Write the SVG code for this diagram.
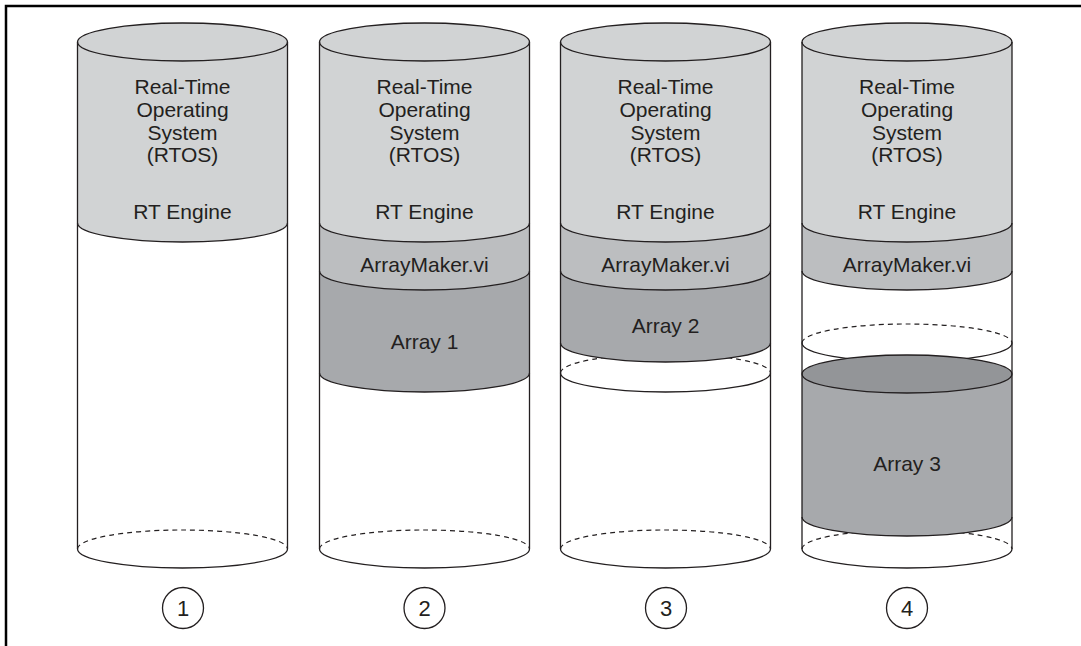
<svg xmlns="http://www.w3.org/2000/svg" width="1081" height="646" viewBox="0 0 1081 646">
<style>
.ln{fill:none;stroke:#231f20;stroke-width:1.3}
.ds{fill:none;stroke:#231f20;stroke-width:1.2;stroke-dasharray:5 4}
.rtos{fill:#d1d3d4}
.am{fill:#bcbec0}
.arr{fill:#a7a9ac}
.arrtop{fill:#939598;stroke:#231f20;stroke-width:1.3}
.t{font-family:"Liberation Sans",Arial,Helvetica,sans-serif;font-size:21px;fill:#231f20;text-anchor:middle}
.n{font-family:"Liberation Sans",Arial,Helvetica,sans-serif;font-size:22px;fill:#231f20;text-anchor:middle}
.num{fill:#fff;stroke:#231f20;stroke-width:1.3}
</style>
<rect width="1081" height="646" fill="#fff"/>
<path d="M6,646 V6 H1081" fill="none" stroke="#000" stroke-width="2.5"/>

<g id="cyl1" transform="translate(182.5,0)">
  <path class="ds" d="M-105,549 A105,19 0 0 1 105,549"/>
  <path class="rtos" d="M-105,42 A105,19 0 0 1 105,42 V223 A105,19 0 0 1 -105,223 Z"/>
  <ellipse class="ln" cx="0" cy="42" rx="105" ry="19"/>
  <path class="ln" d="M-105,223 A105,19 0 0 0 105,223"/>
  <path class="ln" d="M-105,549 A105,19 0 0 0 105,549"/>
  <path class="ln" d="M-105,42 V549 M105,42 V549"/>
  <text class="t" x="0" y="94">Real-Time</text>
  <text class="t" x="0" y="117">Operating</text>
  <text class="t" x="0" y="140">System</text>
  <text class="t" x="0" y="162">(RTOS)</text>
  <text class="t" x="0" y="218.5">RT Engine</text>
</g>

<g id="cyl2" transform="translate(424.5,0)">
  <path class="ds" d="M-105,549 A105,19 0 0 1 105,549"/>
  <path class="rtos" d="M-105,42 A105,19 0 0 1 105,42 V223 A105,19 0 0 1 -105,223 Z"/>
  <path class="am" d="M-105,223 A105,19 0 0 0 105,223 V271 A105,19 0 0 1 -105,271 Z"/>
  <path class="arr" d="M-105,271 A105,19 0 0 0 105,271 V373 A105,19 0 0 1 -105,373 Z"/>
  <ellipse class="ln" cx="0" cy="42" rx="105" ry="19"/>
  <path class="ln" d="M-105,223 A105,19 0 0 0 105,223 M-105,271 A105,19 0 0 0 105,271 M-105,373 A105,19 0 0 0 105,373"/>
  <path class="ln" d="M-105,549 A105,19 0 0 0 105,549"/>
  <path class="ln" d="M-105,42 V549 M105,42 V549"/>
  <text class="t" x="0" y="94">Real-Time</text>
  <text class="t" x="0" y="117">Operating</text>
  <text class="t" x="0" y="140">System</text>
  <text class="t" x="0" y="162">(RTOS)</text>
  <text class="t" x="0" y="218.5">RT Engine</text>
  <text class="t" x="0" y="271.5">ArrayMaker.vi</text>
  <text class="t" x="0" y="348.5">Array 1</text>
</g>

<g id="cyl3" transform="translate(665.5,0)">
  <path class="ds" d="M-105,549 A105,19 0 0 1 105,549"/>
  <path class="ds" d="M-105,373 A105,19 0 0 1 105,373"/>
  <path class="rtos" d="M-105,42 A105,19 0 0 1 105,42 V223 A105,19 0 0 1 -105,223 Z"/>
  <path class="am" d="M-105,223 A105,19 0 0 0 105,223 V271 A105,19 0 0 1 -105,271 Z"/>
  <path class="arr" d="M-105,271 A105,19 0 0 0 105,271 V343 A105,19 0 0 1 -105,343 Z"/>
  <ellipse class="ln" cx="0" cy="42" rx="105" ry="19"/>
  <path class="ln" d="M-105,223 A105,19 0 0 0 105,223 M-105,271 A105,19 0 0 0 105,271 M-105,343 A105,19 0 0 0 105,343 M-105,373 A105,19 0 0 0 105,373"/>
  <path class="ln" d="M-105,549 A105,19 0 0 0 105,549"/>
  <path class="ln" d="M-105,42 V549 M105,42 V549"/>
  <text class="t" x="0" y="94">Real-Time</text>
  <text class="t" x="0" y="117">Operating</text>
  <text class="t" x="0" y="140">System</text>
  <text class="t" x="0" y="162">(RTOS)</text>
  <text class="t" x="0" y="218.5">RT Engine</text>
  <text class="t" x="0" y="271.5">ArrayMaker.vi</text>
  <text class="t" x="0" y="332.5">Array 2</text>
</g>

<g id="cyl4" transform="translate(907,0)">
  <path class="ds" d="M-105,549 A105,19 0 0 1 105,549"/>
  <path class="ds" d="M-105,343 A105,19 0 0 1 105,343"/>
  <path class="rtos" d="M-105,42 A105,19 0 0 1 105,42 V223 A105,19 0 0 1 -105,223 Z"/>
  <path class="am" d="M-105,223 A105,19 0 0 0 105,223 V271 A105,19 0 0 1 -105,271 Z"/>
  <path class="ln" d="M-105,343 A105,19 0 0 0 105,343"/>
  <path class="arr" d="M-105,374 V517 A105,19 0 0 0 105,517 V374 Z"/>
  <ellipse class="arrtop" cx="0" cy="374" rx="105" ry="19"/>
  <ellipse class="ln" cx="0" cy="42" rx="105" ry="19"/>
  <path class="ln" d="M-105,223 A105,19 0 0 0 105,223 M-105,271 A105,19 0 0 0 105,271 M-105,517 A105,19 0 0 0 105,517"/>
  <path class="ln" d="M-105,549 A105,19 0 0 0 105,549"/>
  <path class="ln" d="M-105,42 V549 M105,42 V549"/>
  <text class="t" x="0" y="94">Real-Time</text>
  <text class="t" x="0" y="117">Operating</text>
  <text class="t" x="0" y="140">System</text>
  <text class="t" x="0" y="162">(RTOS)</text>
  <text class="t" x="0" y="218.5">RT Engine</text>
  <text class="t" x="0" y="271.5">ArrayMaker.vi</text>
  <text class="t" x="0" y="470.5">Array 3</text>
</g>

<g id="label1"><circle class="num" cx="183" cy="608" r="20.5"/><text class="n" x="183" y="616">1</text></g>
<g id="label2"><circle class="num" cx="424.5" cy="608" r="20.5"/><text class="n" x="424.5" y="616">2</text></g>
<g id="label3"><circle class="num" cx="666" cy="608" r="20.5"/><text class="n" x="666" y="616">3</text></g>
<g id="label4"><circle class="num" cx="907" cy="608" r="20.5"/><text class="n" x="907" y="616">4</text></g>
<g id="connectors"/>
</svg>
